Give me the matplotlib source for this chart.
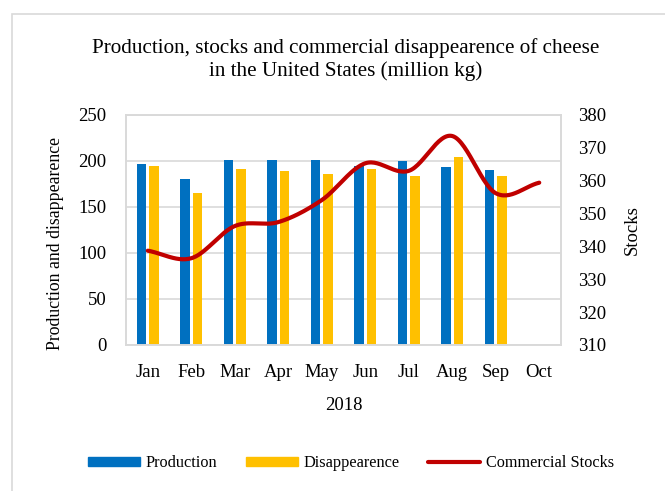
import matplotlib
matplotlib.use("Agg")
import matplotlib.pyplot as plt
from matplotlib.patches import Rectangle
from matplotlib.lines import Line2D
from matplotlib.patches import Patch
import numpy as np

plt.rcParams['font.family'] = ['Liberation Serif', 'DejaVu Serif']

# data
months = ["Jan", "Feb", "Mar", "Apr", "May", "Jun", "Jul", "Aug", "Sep", "Oct"]
production = [197, 180, 201, 201, 201, 195, 200, 194, 190, None]
disappearence = [195, 165, 191, 189, 186, 191, 184, 204, 184, None]
stocks = [338.7, 336.4, 346.2, 347.4, 354.1, 365.3, 363.0, 373.6, 356.2, 359.4]

BLUE = "#0070C0"
GOLD = "#FFC000"
RED = "#C00000"
GRID = "#D9D9D9"


def smooth(xs, ys, n=30):
    """Catmull-Rom style curve through the points (like Excel's smoothed line)."""
    xs = np.asarray(xs, float)
    ys = np.asarray(ys, float)
    px = np.concatenate([[2 * xs[0] - xs[1]], xs, [2 * xs[-1] - xs[-2]]])
    py = np.concatenate([[2 * ys[0] - ys[1]], ys, [2 * ys[-1] - ys[-2]]])
    out_x, out_y = [], []
    t = np.linspace(0, 1, n)
    for i in range(1, len(px) - 2):
        # bezier control points, tension 1/6
        b0 = np.array([px[i], py[i]])
        b3 = np.array([px[i + 1], py[i + 1]])
        b1 = b0 + (b3 - np.array([px[i - 1], py[i - 1]])) / 6
        b2 = b3 - (np.array([px[i + 2], py[i + 2]]) - b0) / 6
        pts = (np.outer((1 - t) ** 3, b0) + np.outer(3 * (1 - t) ** 2 * t, b1)
               + np.outer(3 * (1 - t) * t ** 2, b2) + np.outer(t ** 3, b3))
        out_x.extend(pts[:, 0])
        out_y.extend(pts[:, 1])
    return out_x, out_y


fig = plt.figure(figsize=(6.65, 4.91), dpi=100)
fig.patches.append(Rectangle((12 / 665, -0.1), 1.2, 1 - 14 / 491 + 0.1,
                             transform=fig.transFigure, fill=False,
                             edgecolor=GRID, lw=1.2))

ax = fig.add_axes([0.1895, 0.2974, 0.6541, 0.4684])
ax2 = ax.twinx()

x = np.arange(len(months))
w = 0.22
off = 0.147
p_idx = [i for i, v in enumerate(production) if v is not None]
ax.bar(x[p_idx] - off, [production[i] for i in p_idx], w, color=BLUE, zorder=2)
ax.bar(x[p_idx] + off, [disappearence[i] for i in p_idx], w, color=GOLD, zorder=2)

sx, sy = smooth(x, stocks)
ax2.plot(sx, sy, color=RED, lw=3, solid_capstyle='round', zorder=3)

ax.set_xlim(-0.5, len(months) - 0.5)
ax.set_ylim(0, 250)
ax.set_yticks(range(0, 251, 50))
ax2.set_ylim(310, 380)
ax2.set_yticks(range(310, 381, 10))
ax.set_xticks(x)
ax.set_xticklabels(months)

ax.yaxis.grid(True, color=GRID, lw=1.2, zorder=0)
ax.set_axisbelow(True)
for a in (ax, ax2):
    for s in a.spines.values():
        s.set_color(GRID)
        s.set_linewidth(1.2)
    a.tick_params(length=0, labelsize=13.5)
ax.tick_params(axis='y', pad=14)
ax2.tick_params(axis='y', pad=12)
ax.tick_params(axis='x', pad=14)

ax.set_xlabel("2018", fontsize=13.5, labelpad=11.5)
ax.set_ylabel("Production and disappearence", fontsize=12.8)
ax.yaxis.set_label_coords(-0.143, 0.443)
ax2.set_ylabel("Stocks", fontsize=13.5, labelpad=13)

fig.text(0.52, 0.879, "Production, stocks and commercial disappearence of cheese\nin the United States (million kg)",
         ha='center', va='center', fontsize=15.2, linespacing=1.25)

handles = [Patch(color=BLUE), Patch(color=GOLD),
           Line2D([], [], color=RED, lw=3, solid_capstyle='round')]
fig.legend(handles, ["Production", "Disappearence", "Commercial Stocks"],
           loc='center', bbox_to_anchor=(0.528, 0.057), ncol=3, frameon=False,
           fontsize=11.7, handlelength=3.2, handleheight=0.5, handletextpad=0.35,
           columnspacing=1.75)

fig.savefig("out.png", dpi=100)
